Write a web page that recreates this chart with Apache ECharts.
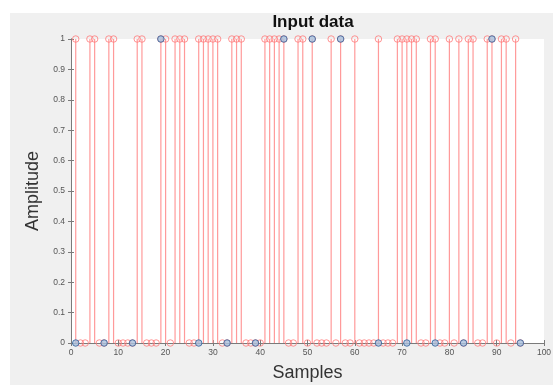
<!DOCTYPE html>
<html>
<head>
<meta charset="utf-8">
<script src="https://cdn.jsdelivr.net/npm/echarts@6/dist/echarts.min.js"></script>
<style>
  html, body { margin: 0; padding: 0; background: #ffffff; }
  #chart { position: absolute; left: 10px; top: 13px; width: 543px; height: 372px; }
</style>
</head>
<body>
<div id="chart"></div>
<script>
// red stem data, samples 1..95 (0/1)
var redValues = [
  1,0,0,1,1,0,0,1,1,0, 0,0,0,1,1,0,0,0,1,1,
  0,1,1,1,0,0,1,1,1,1, 1,0,0,1,1,1,0,0,0,0,
  1,1,1,1,1,0,0,1,1,0, 1,0,0,0,1,0,1,0,0,1,
  0,0,0,0,1,0,0,0,1,1, 1,1,1,0,0,1,1,0,0,1,
  0,1,0,1,1,0,0,1,1,0, 1,1,0,1,0
];
// blue markers
var blueSamples = [1, 7, 13, 19, 27, 33, 39, 45, 51, 57, 65, 71, 77, 83, 89, 95];
var blueValues  = [0, 0, 0, 1, 0, 0, 0, 1, 1, 1, 0, 0, 0, 0, 1, 0];

var redData = redValues.map(function (v, i) { return [i + 1, v]; });
var blueData = blueSamples.map(function (s, i) { return [s, blueValues[i]]; });

var axisLine = { show: true, lineStyle: { color: '#7a7a7a', width: 1 } };
var labelStyle = { color: '#555555', fontSize: 8.5, fontFamily: 'Liberation Sans' };

var chart = echarts.init(document.getElementById('chart'));
chart.setOption({
  backgroundColor: '#f0f0f0',
  animation: false,
  title: {
    text: 'Input data',
    left: 298, top: -4, textAlign: 'center',
    textStyle: { fontFamily: 'Liberation Sans', fontWeight: 'bold', fontSize: 17, color: '#111' }
  },
  grid: {
    left: 61, right: 9, top: 26, bottom: 42,
    outerBoundsMode: 'none', containLabel: false,
    backgroundColor: '#ffffff', show: true, borderWidth: 0
  },
  xAxis: [{
    type: 'value', min: 0, max: 100, interval: 10,
    name: 'Samples', nameLocation: 'middle', nameGap: 21,
    nameTextStyle: { fontFamily: 'Liberation Sans', fontSize: 18, color: '#333' },
    axisLine: axisLine,
    axisTick: { show: true, inside: true, length: 3, lineStyle: { color: '#7a7a7a' } },
    axisLabel: Object.assign({ margin: 5 }, labelStyle),
    splitLine: { show: false }
  }, {
    type: 'value', min: 0, max: 100, interval: 10, position: 'top',
    axisLine: axisLine,
    axisTick: { show: true, inside: true, length: 3, lineStyle: { color: '#7a7a7a' } },
    axisLabel: { show: false }, splitLine: { show: false }
  }],
  yAxis: [{
    type: 'value', min: 0, max: 1, interval: 0.1,
    name: 'Amplitude', nameLocation: 'middle', nameGap: 21,
    nameTextStyle: { fontFamily: 'Liberation Sans', fontSize: 18, color: '#333' },
    axisLine: axisLine,
    axisTick: { show: true, inside: true, length: 3, lineStyle: { color: '#7a7a7a' } },
    axisLabel: Object.assign({ margin: 6, formatter: function (v) { return String(+v.toFixed(1)); } }, labelStyle),
    splitLine: { show: false }
  }, {
    type: 'value', min: 0, max: 1, interval: 0.1, position: 'right',
    axisLine: axisLine,
    axisTick: { show: true, inside: true, length: 3, lineStyle: { color: '#7a7a7a' } },
    axisLabel: { show: false }, splitLine: { show: false }
  }],
  series: [{
    type: 'custom',
    data: redData,
    renderItem: function (params, api) {
      var p0 = api.coord([api.value(0), 0]);
      var p1 = api.coord([api.value(0), api.value(1)]);
      return {
        type: 'line',
        shape: { x1: p0[0], y1: p0[1], x2: p1[0], y2: p1[1] },
        style: { stroke: '#ff9a9a', lineWidth: 1.2 }
      };
    },
    z: 2
  }, {
    type: 'scatter',
    data: redData,
    symbol: 'circle', symbolSize: 6.5,
    itemStyle: { color: 'rgba(255,255,255,0)', borderColor: '#ff7a7a', borderWidth: 1 },
    z: 3
  }, {
    type: 'scatter',
    data: blueData,
    symbol: 'circle', symbolSize: 6.5,
    itemStyle: { color: '#a9bfdc', borderColor: '#2f5f9a', borderWidth: 1 },
    z: 4
  }]
});
</script>
</body>
</html>
